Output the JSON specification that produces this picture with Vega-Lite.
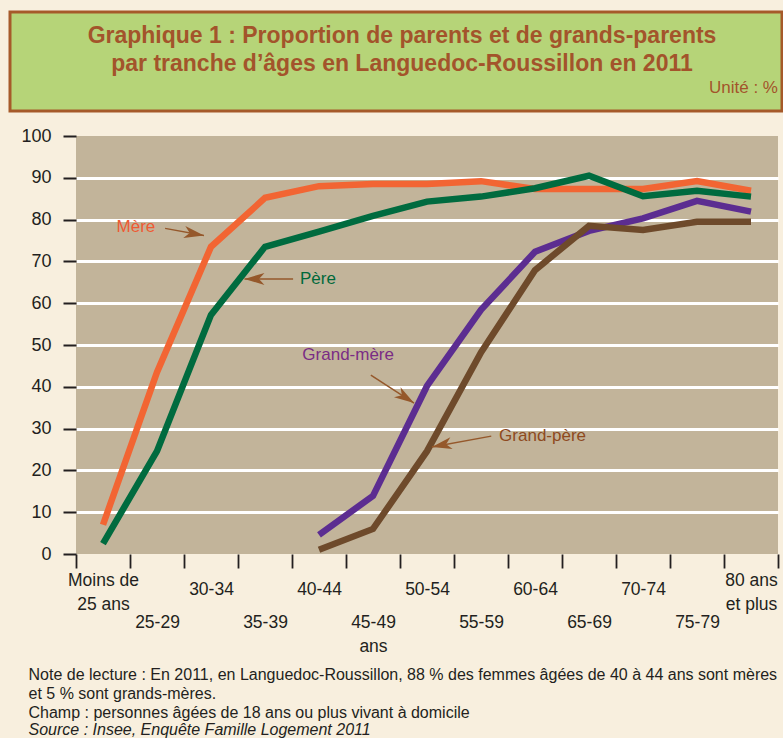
{
  "$schema": "https://vega.github.io/schema/vega-lite/v6.json",
  "background": "#F8EFDE",
  "padding": {"left": 8, "top": 10, "right": 0, "bottom": 0},
  "config": {"font": "Liberation Sans", "view": {"stroke": null}},
  "title": {
    "text": ["Note de lecture : En 2011, en Languedoc-Roussillon, 88 % des femmes âgées de 40 à 44 ans sont mères", "et 5 % sont grands-mères.", "Champ : personnes âgées de 18 ans ou plus vivant à domicile"],
    "subtitle": "Source : Insee, Enquête Famille Logement 2011",
    "orient": "bottom", "anchor": "start", "frame": "bounds", "offset": 12, "dx": 20,
    "font": "Liberation Sans", "fontSize": 16, "fontWeight": "normal", "color": "#231F20", "lineHeight": 19,
    "subtitleFont": "Liberation Sans", "subtitleFontSize": 16, "subtitleFontStyle": "italic", "subtitleColor": "#231F20", "subtitleLineHeight": 19, "subtitlePadding": 1
  },
  "spacing": 14,
  "datasets": {
    "series": [
      {"age": "Moins de 25 ans", "serie": "Mère", "value": 7},
      {"age": "25-29", "serie": "Mère", "value": 43.5},
      {"age": "30-34", "serie": "Mère", "value": 73.5},
      {"age": "35-39", "serie": "Mère", "value": 85.2},
      {"age": "40-44", "serie": "Mère", "value": 88},
      {"age": "45-49", "serie": "Mère", "value": 88.5},
      {"age": "50-54", "serie": "Mère", "value": 88.5},
      {"age": "55-59", "serie": "Mère", "value": 89.2},
      {"age": "60-64", "serie": "Mère", "value": 87.3},
      {"age": "65-69", "serie": "Mère", "value": 87.3},
      {"age": "70-74", "serie": "Mère", "value": 87.3},
      {"age": "75-79", "serie": "Mère", "value": 89.2},
      {"age": "80 ans et plus", "serie": "Mère", "value": 86.9},
      {"age": "Moins de 25 ans", "serie": "Père", "value": 2.5},
      {"age": "25-29", "serie": "Père", "value": 24.6},
      {"age": "30-34", "serie": "Père", "value": 57.2},
      {"age": "35-39", "serie": "Père", "value": 73.5},
      {"age": "40-44", "serie": "Père", "value": 77.1},
      {"age": "45-49", "serie": "Père", "value": 80.9},
      {"age": "50-54", "serie": "Père", "value": 84.3},
      {"age": "55-59", "serie": "Père", "value": 85.5},
      {"age": "60-64", "serie": "Père", "value": 87.5},
      {"age": "65-69", "serie": "Père", "value": 90.5},
      {"age": "70-74", "serie": "Père", "value": 85.6},
      {"age": "75-79", "serie": "Père", "value": 86.9},
      {"age": "80 ans et plus", "serie": "Père", "value": 85.5},
      {"age": "40-44", "serie": "Grand-mère", "value": 4.6},
      {"age": "45-49", "serie": "Grand-mère", "value": 13.9},
      {"age": "50-54", "serie": "Grand-mère", "value": 40.2},
      {"age": "55-59", "serie": "Grand-mère", "value": 58.4},
      {"age": "60-64", "serie": "Grand-mère", "value": 72.3},
      {"age": "65-69", "serie": "Grand-mère", "value": 77.3},
      {"age": "70-74", "serie": "Grand-mère", "value": 80.3},
      {"age": "75-79", "serie": "Grand-mère", "value": 84.5},
      {"age": "80 ans et plus", "serie": "Grand-mère", "value": 81.9},
      {"age": "40-44", "serie": "Grand-père", "value": 1},
      {"age": "45-49", "serie": "Grand-père", "value": 6},
      {"age": "50-54", "serie": "Grand-père", "value": 24.6},
      {"age": "55-59", "serie": "Grand-père", "value": 48.2},
      {"age": "60-64", "serie": "Grand-père", "value": 67.9},
      {"age": "65-69", "serie": "Grand-père", "value": 78.5},
      {"age": "70-74", "serie": "Grand-père", "value": 77.5},
      {"age": "75-79", "serie": "Grand-père", "value": 79.5},
      {"age": "80 ans et plus", "serie": "Grand-père", "value": 79.5}
    ],
    "labels": [
      {"label": "Mère", "x": 1.11, "y": 78.3},
      {"label": "Père", "x": 4.48, "y": 65.8},
      {"label": "Grand-mère", "x": 5.04, "y": 47.6},
      {"label": "Grand-père", "x": 8.64, "y": 28.3}
    ],
    "arrows": [
      {"label": "Mère", "x1": 1.65, "y1": 77.9, "x2": 2.37, "y2": 76.2, "angle": 10},
      {"label": "Père", "x1": 4.02, "y1": 65.8, "x2": 3.12, "y2": 65.8, "angle": 180},
      {"label": "Grand-mère", "x1": 5.46, "y1": 42.8, "x2": 6.26, "y2": 36.1, "angle": 33},
      {"label": "Grand-père", "x1": 7.69, "y1": 28.2, "x2": 6.59, "y2": 25.6, "angle": 169}
    ]
  },
  "vconcat": [
    {
      "width": 772,
      "height": 99,
      "view": {"fill": "#B6D478", "stroke": "#A65A2A", "strokeWidth": 3},
      "title": {
        "text": ["Graphique 1  : Proportion de parents et de grands-parents", "par tranche d’âges en Languedoc-Roussillon en 2011"],
        "anchor": "middle", "frame": "group", "orient": "top", "offset": -64, "baseline": "top", "dx": 6,
        "font": "Liberation Sans", "fontSize": 23, "fontWeight": "bold", "color": "#A3542B", "lineHeight": 28
      },
      "data": {"values": [{"u": "Unité : %"}]},
      "mark": {"type": "text", "align": "right", "baseline": "bottom", "dx": -4, "dy": -14, "fontSize": 17, "color": "#A3542B", "font": "Liberation Sans"},
      "encoding": {
        "text": {"field": "u", "type": "nominal"},
        "x": {"value": "width"},
        "y": {"value": "height"}
      }
    },
    {
      "spacing": 0,
      "hconcat": [
        {
          "width": 1,
          "height": 10,
          "data": {"values": []},
          "mark": {"type": "rule"},
          "encoding": {}
        },
        {
          "width": 702,
          "height": 418,
          "view": {"fill": "#C2B49A", "stroke": null},
          "resolve": {"scale": {"x": "independent"}},
          "layer": [
            {
              "data": {"name": "series"},
              "mark": {"type": "line", "strokeWidth": 6.5, "strokeCap": "butt", "strokeJoin": "miter"},
              "encoding": {
                "x": {
                  "field": "age", "type": "nominal", "bandPosition": 0.5,
                  "sort": ["Moins de 25 ans", "25-29", "30-34", "35-39", "40-44", "45-49", "50-54", "55-59", "60-64", "65-69", "70-74", "75-79", "80 ans et plus"],
                  "scale": {"type": "band", "paddingInner": 0, "paddingOuter": 0},
                  "axis": {
                    "title": null, "domain": false, "grid": false, "tickBand": "extent",
                    "tickSize": 14, "tickWidth": 1.8, "tickColor": "#231F20",
                    "labelFont": "Liberation Sans", "labelFontSize": 17.5, "labelColor": "#231F20",
                    "labelPadding": 21, "labelAngle": 0, "labelLineHeight": 24, "labelOverlap": false, "labelBound": false,
                    "labelExpr": "datum.value == 'Moins de 25 ans' ? ['Moins de', '25 ans'] : datum.value == '80 ans et plus' ? ['80 ans', 'et plus'] : datum.value == '45-49' ? ['', '45-49', 'ans'] : indexof(['25-29', '35-39', '55-59', '65-69', '75-79'], datum.value) >= 0 ? ['', datum.value] : datum.value",
                    "labelBaseline": {"condition": [
                      {"test": "indexof(['25-29', '35-39', '45-49', '55-59', '65-69', '75-79'], datum.value) >= 0", "value": "top"},
                      {"test": "datum.value == 'Moins de 25 ans' || datum.value == '80 ans et plus'", "value": "bottom"}
                    ], "value": "middle"}
                  }
                },
                "y": {
                  "field": "value", "type": "quantitative",
                  "scale": {"domain": [0, 100], "nice": false},
                  "axis": {
                    "title": null, "domain": false, "values": [0, 10, 20, 30, 40, 50, 60, 70, 80, 90, 100],
                    "tickSize": 13, "tickWidth": 2, "tickColor": "#231F20",
                    "labelFont": "Liberation Sans", "labelFontSize": 18, "labelColor": "#231F20", "labelPadding": 12,
                    "grid": true, "gridWidth": 3,
                    "gridColor": {"condition": {"test": "datum.value == 0 || datum.value == 100", "value": "transparent"}, "value": "#FFFFFF"},
                    "minExtent": 65
                  }
                },
                "stroke": {
                  "field": "serie", "type": "nominal",
                  "scale": {"domain": ["Mère", "Père", "Grand-mère", "Grand-père"], "range": ["#F26533", "#006B3F", "#5C2D91", "#6E4A2B"]},
                  "legend": null
                }
              }
            },
            {
              "data": {"name": "arrows"},
              "mark": {"type": "rule", "color": "#95582B", "strokeWidth": 1.5},
              "encoding": {
                "x": {"field": "x1", "type": "quantitative", "scale": {"domain": [0, 13], "nice": false, "zero": false}, "axis": null},
                "y": {"field": "y1", "type": "quantitative"},
                "x2": {"field": "x2"},
                "y2": {"field": "y2"}
              }
            },
            {
              "data": {"name": "arrows"},
              "mark": {"type": "point", "shape": "M0,0L-2,-0.6L-1.45,0L-2,0.6Z", "size": 400, "filled": true, "color": "#95582B", "opacity": 1, "strokeWidth": 0},
              "encoding": {
                "x": {"field": "x2", "type": "quantitative", "scale": {"domain": [0, 13], "nice": false, "zero": false}, "axis": null},
                "y": {"field": "y2", "type": "quantitative"},
                "angle": {"field": "angle", "type": "quantitative", "scale": null}
              }
            },
            {
              "data": {"name": "labels"},
              "mark": {"type": "text", "fontSize": 17, "align": "center", "baseline": "middle", "font": "Liberation Sans"},
              "encoding": {
                "x": {"field": "x", "type": "quantitative", "scale": {"domain": [0, 13], "nice": false, "zero": false}, "axis": null},
                "y": {"field": "y", "type": "quantitative"},
                "text": {"field": "label", "type": "nominal"},
                "fill": {
                  "field": "label", "type": "nominal",
                  "scale": {"domain": ["Mère", "Père", "Grand-mère", "Grand-père"], "range": ["#EE5A33", "#00693A", "#7A2C85", "#8E4A1E"]},
                  "legend": null
                }
              }
            }
          ]
        }
      ]
    }
  ]
}
